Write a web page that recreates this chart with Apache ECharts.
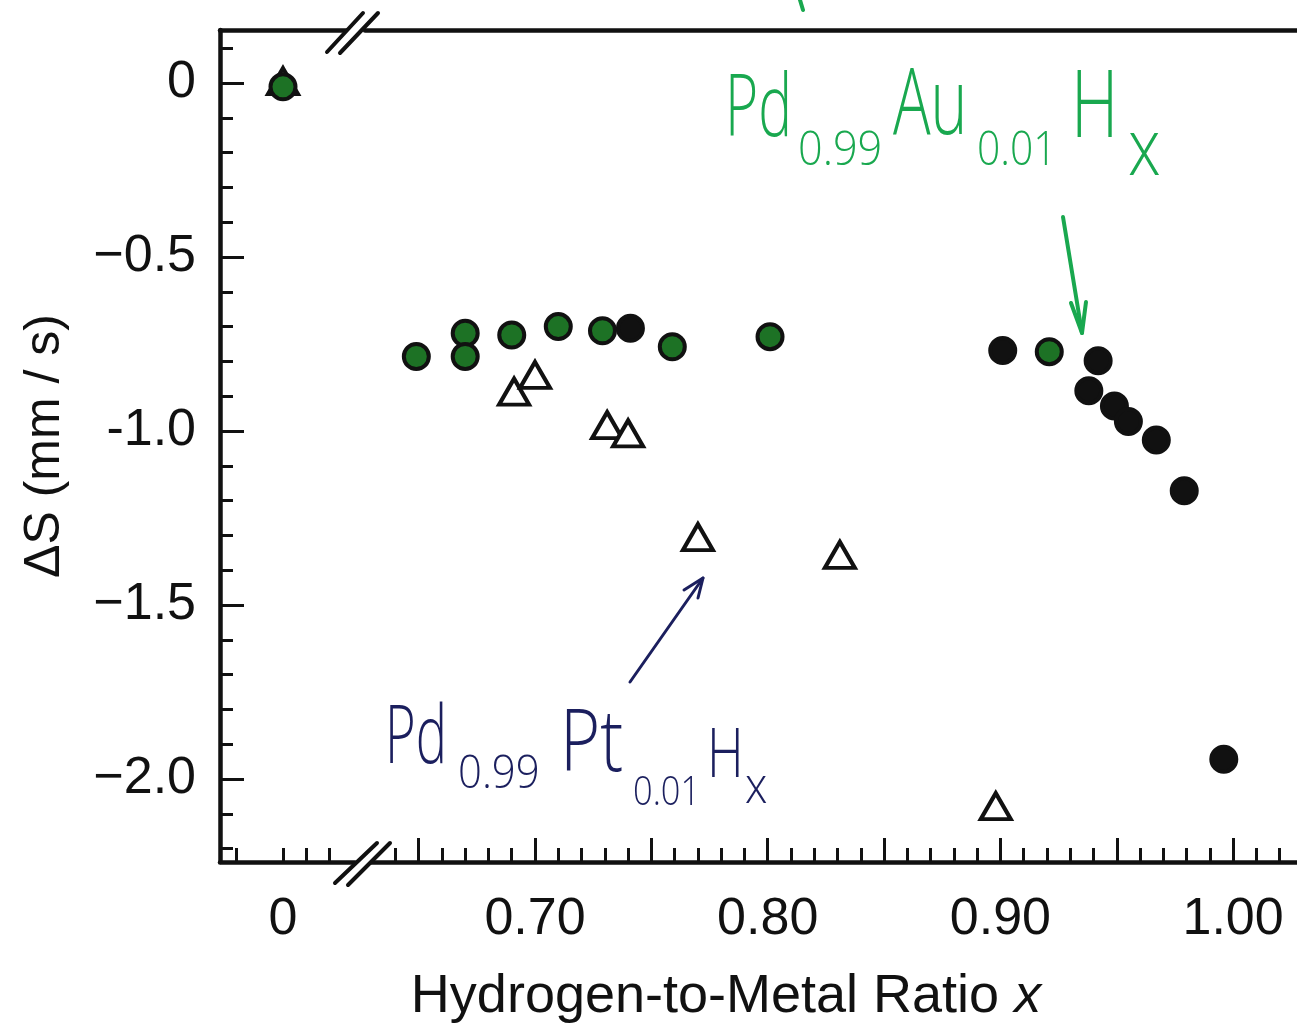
<!DOCTYPE html>
<html>
<head>
<meta charset="utf-8">
<script src="https://cdn.jsdelivr.net/npm/echarts@6/dist/echarts.min.js"></script>
<style>
  html, body { margin: 0; padding: 0; background: #fff; }
  #chart { width: 1297px; height: 1032px; }
</style>
</head>
<body>
<div id="chart"></div>
<script>
// hand-coloured (green) circles
var greenX = [0, 0.649, 0.670, 0.670, 0.690, 0.710, 0.729, 0.759, 0.801, 0.921];
var greenY = [-0.011, -0.786, -0.719, -0.786, -0.724, -0.700, -0.712, -0.758, -0.729, -0.772];
// black circles
var blackX = [0.741, 0.901, 0.942, 0.938, 0.949, 0.955, 0.967, 0.979, 0.996];
var blackY = [-0.705, -0.769, -0.798, -0.884, -0.928, -0.973, -1.026, -1.172, -1.943];
// open triangles
var triX = [0, 0.691, 0.700, 0.731, 0.740, 0.770, 0.831, 0.898];
var triY = [0.005, -0.887, -0.839, -0.983, -1.007, -1.305, -1.356, -2.078];

// tick values
var yMajor = [0, -0.5, -1.0, -1.5, -2.0];
var yLabels = ['0', '\u22120.5', '-1.0', '\u22121.5', '\u22122.0'];
var yMinor = [0.1, -0.1, -0.2, -0.3, -0.4, -0.6, -0.7, -0.8, -0.9, -1.1, -1.2, -1.3, -1.4,
              -1.6, -1.7, -1.8, -1.9, -2.1, -2.2];
var xLeftMinor = [-0.02, 0, 0.01, 0.02];
var xLeftLabels = [0];
var xMajor = [0.65, 0.70, 0.75, 0.80, 0.85, 0.90, 0.95, 1.00];
var xMinor = [0.64, 0.66, 0.67, 0.68, 0.69, 0.71, 0.72, 0.73, 0.74, 0.76, 0.77, 0.78, 0.79,
              0.81, 0.82, 0.83, 0.84, 0.86, 0.87, 0.88, 0.89, 0.91, 0.92, 0.93, 0.94,
              0.96, 0.97, 0.98, 0.99, 1.01, 1.02];
var xLabelValues = [0.70, 0.80, 0.90, 1.00];
var xLabelText = ['0.70', '0.80', '0.90', '1.00'];

var INK = '#111';
var GREEN_FILL = '#1d7225';
var PEN_GREEN = '#19a84f';
var PEN_NAVY = '#1b1f5e';
var FONT = 'Liberation Sans';

var Y_MIN = -2.2385, Y_MAX = 0.1523;

function pairs(xs, ys, left) {
  var out = [];
  for (var i = 0; i < xs.length; i++) {
    if ((xs[i] < 0.3) === left) out.push([xs[i], ys[i]]);
  }
  return out;
}

function bottomAxis(grid, min, max, ticks, len, labels) {
  return {
    type: 'value', gridIndex: grid, position: 'bottom', min: min, max: max,
    axisLine: { show: labels != null, onZero: false, lineStyle: { color: INK, width: 4.5 } },
    axisTick: { show: true, inside: true, length: len, customValues: ticks,
                lineStyle: { color: INK, width: 3 } },
    axisLabel: labels == null ? { show: false } : {
      show: true, customValues: labels, margin: 32, color: INK,
      fontFamily: FONT, fontSize: 52,
      formatter: function (v) {
        if (Math.abs(v) < 1e-9) return '0';
        for (var i = 0; i < xLabelValues.length; i++) {
          if (Math.abs(v - xLabelValues[i]) < 1e-6) return xLabelText[i];
        }
        return '';
      }
    },
    splitLine: { show: false }
  };
}

function topAxis(grid, min, max) {
  return {
    type: 'value', gridIndex: grid, position: 'top', min: min, max: max,
    axisLine: { show: true, onZero: false, lineStyle: { color: INK, width: 4.5 } },
    axisTick: { show: false }, axisLabel: { show: false }, splitLine: { show: false }
  };
}

var L0 = -0.02707, L1 = 0.03094;   // left piece of the broken axis
var R0 = 0.62694, R1 = 1.02746;    // right piece

function scatter(name, xs, ys, left, symbol, size, fill) {
  return {
    name: name, type: 'scatter',
    xAxisIndex: left ? 0 : 3, yAxisIndex: left ? 0 : 2,
    symbol: symbol, symbolSize: size,
    itemStyle: { color: fill, borderColor: INK, borderWidth: 4, opacity: 1 },
    data: pairs(xs, ys, left)
  };
}

function penText(parts, color) {
  return parts.map(function (p) {
    return {
      type: 'text', x: p[1], y: p[2], scaleX: p[4], z: 100,
      style: {
        text: p[0], fill: color, fontFamily: 'Open Sans', fontWeight: 300,
        fontSize: p[3], align: 'left', verticalAlign: 'middle',
        textAlign: 'left', textVerticalAlign: 'middle'
      }
    };
  });
}

function line(x1, y1, x2, y2, color, w) {
  return { type: 'line', z: 100, shape: { x1: x1, y1: y1, x2: x2, y2: y2 },
           style: { stroke: color, lineWidth: w, lineCap: 'round' } };
}
function head(pts, color, w) {
  return { type: 'polyline', z: 100, shape: { points: pts },
           style: { stroke: color, lineWidth: w, fill: null, lineCap: 'round', lineJoin: 'round' } };
}

var chart = echarts.init(document.getElementById('chart'));

var graphics = []
  // axis breaks
  .concat([
    line(334, 52, 371, 13, '#fff', 12),
    line(327, 52, 363, 13, INK, 4),
    line(340, 53, 378, 13, INK, 4),
    line(341, 884, 383, 843, '#fff', 12),
    line(335, 883, 377, 843, INK, 4),
    line(348, 885, 390, 843, INK, 4)
  ])
  .concat(penText([
    ['Pd', 725, 111, 86, 0.66],
    ['0.99', 798, 151, 48, 0.9],
    ['Au', 893, 108, 92, 0.68],
    ['0.01', 977, 151, 48, 0.85],
    ['H', 1071, 110, 94, 0.7],
    ['x', 1128, 152, 80, 0.82]
  ], PEN_GREEN))
  .concat([
    line(1063, 217, 1082, 333, PEN_GREEN, 4),
    head([[1071, 303], [1082, 333], [1086, 302]], PEN_GREEN, 4),
    line(800, 0, 803, 10, PEN_GREEN, 4)
  ])
  .concat(penText([
    ['Pd', 385, 740, 82, 0.64],
    ['0.99', 458, 775, 46, 0.91],
    ['Pt', 560, 746, 86, 0.8],
    ['0.01', 633, 794, 40, 0.86],
    ['H', 707, 758, 68, 0.75],
    ['x', 745, 789, 50, 0.9]
  ], PEN_NAVY))
  .concat([
    line(630, 682, 703, 578, PEN_NAVY, 3),
    head([[684, 590], [703, 578], [698, 598]], PEN_NAVY, 3)
  ])
  .concat([{
    type: 'text', x: 726, y: 997, z: 100,
    style: {
      text: '{n|Hydrogen-to-Metal Ratio }{i|x}',
      align: 'center', verticalAlign: 'middle',
      textAlign: 'center', textVerticalAlign: 'middle',
      rich: {
        n: { fontFamily: FONT, fontSize: 54, fill: INK, color: INK },
        i: { fontFamily: FONT, fontSize: 54, fontStyle: 'italic', fill: INK, color: INK }
      }
    }
  }]);

var option = {
  backgroundColor: '#fff',
  animation: false,
  grid: [
    { left: 220, top: 30, width: 135, height: 832 },
    { left: 365, top: 30, right: 0, height: 832 }
  ],
  xAxis: [
    bottomAxis(0, L0, L1, [], 0, xLeftLabels),
    bottomAxis(0, L0, L1, xLeftMinor, 14, null),
    topAxis(0, L0, L1),
    bottomAxis(1, R0, R1, xMajor, 24, xLabelValues),
    bottomAxis(1, R0, R1, xMinor, 14, null),
    topAxis(1, R0, R1)
  ],
  yAxis: [
    {
      type: 'value', gridIndex: 0, position: 'left', min: Y_MIN, max: Y_MAX,
      name: '\u0394S (mm / s)', nameLocation: 'middle', nameGap: 150,
      nameTextStyle: { fontFamily: FONT, fontSize: 50, color: INK },
      axisLine: { show: true, onZero: false, lineStyle: { color: INK, width: 4.5 } },
      axisTick: { show: true, inside: true, length: 24, customValues: yMajor,
                  lineStyle: { color: INK, width: 3 } },
      axisLabel: {
        show: true, customValues: yMajor, margin: 24, color: INK,
        fontFamily: FONT, fontSize: 52,
        formatter: function (v) {
          for (var i = 0; i < yMajor.length; i++) {
            if (Math.abs(v - yMajor[i]) < 1e-6) return yLabels[i];
          }
          return '';
        }
      },
      splitLine: { show: false }
    },
    {
      type: 'value', gridIndex: 0, position: 'left', min: Y_MIN, max: Y_MAX,
      axisLine: { show: false, onZero: false },
      axisTick: { show: true, inside: true, length: 13, customValues: yMinor,
                  lineStyle: { color: INK, width: 3 } },
      axisLabel: { show: false }, splitLine: { show: false }
    },
    {
      type: 'value', gridIndex: 1, min: Y_MIN, max: Y_MAX, show: false,
      axisLine: { onZero: false }, splitLine: { show: false }
    }
  ],
  series: [
    scatter('triangles', triX, triY, true, 'triangle', [30, 26], '#fff'),
    scatter('triangles', triX, triY, false, 'triangle', [30, 26], '#fff'),
    scatter('black', blackX, blackY, true, 'circle', 25, INK),
    scatter('black', blackX, blackY, false, 'circle', 25, INK),
    scatter('green', greenX, greenY, true, 'circle', 25, GREEN_FILL),
    scatter('green', greenX, greenY, false, 'circle', 25, GREEN_FILL)
  ],
  graphic: graphics
};

chart.setOption(option);
</script>
</body>
</html>
